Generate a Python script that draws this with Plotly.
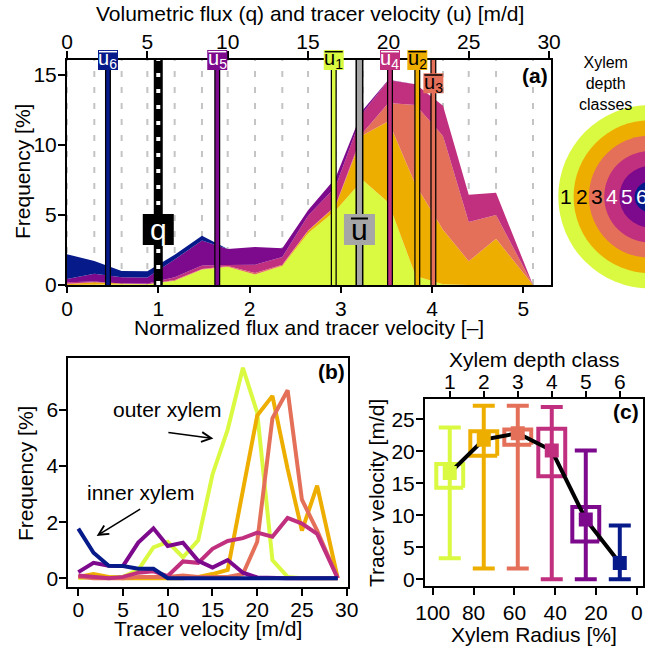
import plotly.graph_objects as go

W, H = 645, 649
def px(x): return x / W
def py(y): return 1 - y / H

FONT = "Liberation Sans, Arial, Helvetica, sans-serif"

# ---------------- data ----------------
velocity = [0, 1.7, 3.4, 5.0, 6.7, 8.4, 10.0, 11.7, 13.4, 15.0, 16.7, 18.4, 20.0, 21.7, 23.4, 25.0, 26.7, 29.0]
freq_c1 = [0.0, 0.05, 0.05, 0.05, 0.3, 1.1, 1.3, 0.75, 1.35, 3.7, 5.3, 7.5, 5.9, 0.65, 0.05, 0, 0, 0]
freq_c2 = [0.05, 0.15, 0.05, 0.0, 0.0, 0.0, 0.0, 0.0, 0.05, 0.15, 0.3, 3.2, 5.8, 6.5, 3.9, 1.7, 3.3, 0]
freq_c3 = [0.05, 0.0, 0.0, 0.0, 0.05, 0.05, 0.05, 0.1, 0.05, 0.05, 0.05, 0.15, 1.3, 5.7, 6.7, 2.8, 1.7, 0]
freq_c4 = [0.1, 0.05, 0.0, 0.05, 0.2, 0.25, 0.08, 0.6, 0.55, 1.05, 1.33, 1.43, 1.63, 1.48, 2.15, 1.95, 1.58, 0]
freq_c5 = [0.22, 0.55, 0.45, 0.44, 1.27, 1.78, 1.15, 1.27, 0.62, 0.38, 0.65, 0.2, 0.03, 0, 0, 0, 0, 0]
freq_c6 = [1.77, 0.91, 0.45, 0.44, 0.34, 0.34, 0, 0, 0, 0, 0, 0, 0, 0, 0, 0, 0, 0]
freqs = [freq_c1, freq_c2, freq_c3, freq_c4, freq_c5, freq_c6]

classes = [1, 2, 3, 4, 5, 6]
class_labels = ["1", "2", "3", "4", "5", "6"]
radius_center = [91.67, 75.0, 58.33, 41.67, 25.0, 8.33]
mean_u = [16.6, 21.8, 22.8, 20.1, 9.35, 2.55]
box_low = [14.3, 19.3, 21.0, 16.1, 5.9, None]
box_high = [18.0, 23.1, 23.4, 23.5, 11.3, None]
whisk_low = [3.3, 1.7, 1.7, 0.0, 0.0, 0.0]
whisk_high = [23.7, 27.1, 27.1, 26.9, 20.1, 8.4]

q_flux = 5.68      # volumetric flux [m/d]
u_mean_all = 18.2  # mean tracer velocity [m/d]

colors = ['#DAF941', '#EEAE00', '#E4705A', '#C1307F', '#7D0A8C', '#071A8A']
text_on = ['black', 'black', 'black', 'white', 'white', 'white']

XMAX_A = 30.12
YMAX_A = 16.07

fig = go.Figure()

# ---------------- panel (a): stacked areas ----------------
for i, f in enumerate(freqs):
    fig.add_trace(go.Scatter(x=velocity, y=f, mode='lines', stackgroup='a',
                             line=dict(width=0, color=colors[i]), fillcolor=colors[i],
                             xaxis='x', yaxis='y', showlegend=False, hoverinfo='skip'))

# dashed guide lines at bins
shapes = []
for v in velocity:
    shapes.append(dict(type='line', xref='x', yref='y', x0=v, x1=v, y0=0, y1=YMAX_A,
                       layer='below', line=dict(color='#C4C4C4', width=2, dash='6px,10px')))

# mean velocity bars
def vbar(x, color, wb, wc, dash=None):
    fig.add_trace(go.Scatter(x=[x, x], y=[0, YMAX_A], mode='lines', xaxis='x', yaxis='y',
                             line=dict(color='black', width=wb), showlegend=False, hoverinfo='skip'))
    fig.add_trace(go.Scatter(x=[x, x], y=[0, YMAX_A], mode='lines', xaxis='x', yaxis='y',
                             line=dict(color=color, width=wc, dash=dash), showlegend=False, hoverinfo='skip'))

vbar(q_flux, 'white', 9, 4, dash='4px,12px')
vbar(u_mean_all, '#A6A6A6', 8, 5)
for i in range(6):
    vbar(mean_u[i], colors[i], 6, 3.5)

# invisible trace so that the normalized bottom axis is drawn
fig.add_trace(go.Scatter(x=[0, XMAX_A / q_flux], y=[0, 0], mode='markers', xaxis='x2', yaxis='y',
                         marker=dict(size=1, color='rgba(0,0,0,0)'), showlegend=False, hoverinfo='skip'))

# ---------------- panel (b): lines ----------------
for i, f in enumerate(freqs):
    fig.add_trace(go.Scatter(x=velocity, y=f, mode='lines', xaxis='x3', yaxis='y2',
                             line=dict(color=colors[i], width=4), showlegend=False, hoverinfo='skip'))

# ---------------- panel (c) ----------------
BHW = 6.6
for i in range(6):
    if box_low[i] is None:
        continue
    xc = radius_center[i]
    fig.add_trace(go.Scatter(x=[xc - BHW, xc + BHW, xc + BHW, xc - BHW, xc - BHW],
                             y=[box_low[i], box_low[i], box_high[i], box_high[i], box_low[i]],
                             mode='lines', xaxis='x4', yaxis='y3',
                             line=dict(color=colors[i], width=4), showlegend=False, hoverinfo='skip'))
for i in range(6):
    fig.add_trace(go.Scatter(x=[radius_center[i]], y=[mean_u[i]], mode='markers', xaxis='x4', yaxis='y3',
                             marker=dict(size=1, color='rgba(0,0,0,0)'),
                             error_y=dict(type='data', symmetric=False,
                                          array=[whisk_high[i] - mean_u[i]],
                                          arrayminus=[mean_u[i] - whisk_low[i]],
                                          color=colors[i], thickness=4, width=11),
                             showlegend=False, hoverinfo='skip'))
fig.add_trace(go.Scatter(x=radius_center, y=mean_u, mode='lines', xaxis='x4', yaxis='y3',
                         line=dict(color='black', width=4), showlegend=False, hoverinfo='skip'))
fig.add_trace(go.Scatter(x=radius_center, y=mean_u, mode='markers', xaxis='x4', yaxis='y3',
                         marker=dict(size=14, color=colors, symbol='square', line=dict(width=0)),
                         showlegend=False, hoverinfo='skip'))
# invisible trace so that the class (top) axis is drawn
fig.add_trace(go.Scatter(x=radius_center, y=mean_u, mode='markers', xaxis='x5', yaxis='y3',
                         marker=dict(size=1, color='rgba(0,0,0,0)'), showlegend=False, hoverinfo='skip'))

# ---------------- rings ----------------
ring_cx, ring_cy = 650, 196.7
ring_r = [91.7, 76.4, 61.1, 45.8, 30.6, 15.3]
for i, r in enumerate(ring_r):
    shapes.append(dict(type='circle', xref='paper', yref='paper',
                       x0=px(ring_cx - r), x1=px(ring_cx + r), y0=py(ring_cy + r), y1=py(ring_cy - r),
                       fillcolor=colors[i], line=dict(width=0), layer='above'))

# ---------------- annotations ----------------
ann = []
def txt(x, y, s, size=21, color='black', bold=False, angle=0, xanchor='center', yanchor='middle'):
    ann.append(dict(x=px(x), y=py(y), xref='paper', yref='paper', text=(f'<b>{s}</b>' if bold else s),
                    showarrow=False, font=dict(family=FONT, size=size, color=color), textangle=angle,
                    xanchor=xanchor, yanchor=yanchor))

txt(310, 13, 'Volumetric flux (q) and tracer velocity (u) [m/d]')
txt(309, 327, 'Normalized flux and tracer velocity [–]')
txt(22, 172, 'Frequency [%]', angle=-90)
txt(535, 75, '(a)', bold=True)

txt(208, 628, 'Tracer velocity [m/d]')
txt(25, 474, 'Frequency [%]', angle=-90)
txt(331, 372, '(b)', bold=True)

txt(534, 634, 'Xylem Radius [%]')
txt(534, 360, 'Xylem depth class')
txt(376, 493, 'Tracer velocity [m/d]', angle=-90)
txt(626, 412, '(c)', bold=True)

txt(605, 83, 'Xylem<br>depth<br>classes', size=16)
ring_num_x = [566, 581.5, 596.5, 612, 627, 642]
for i, lab in enumerate(class_labels):
    txt(ring_num_x[i], ring_cy, lab, size=21, color=text_on[i])

# mean labels on (a): box, overline, text
def label_box(xv, yc_px, half_w, half_h, fill, over_col, over_off, over_half, over_w, text, tcol, size):
    shapes.append(dict(type='rect', xref='x', yref='paper', xsizemode='pixel', ysizemode='pixel',
                       xanchor=xv, x0=-half_w, x1=half_w, yanchor=py(yc_px), y0=-half_h, y1=half_h,
                       fillcolor=fill, line=dict(width=0), layer='above'))
    if over_col is not None:
        shapes.append(dict(type='line', xref='x', yref='paper', xsizemode='pixel', ysizemode='pixel',
                           xanchor=xv, x0=-over_half, x1=over_half, yanchor=py(yc_px),
                           y0=over_off, y1=over_off, line=dict(color=over_col, width=over_w), layer='above'))
    ann.append(dict(x=xv, xref='x', y=py(yc_px), yref='paper', text=text, showarrow=False,
                    xanchor='center', yanchor='middle',
                    font=dict(family=FONT, size=size, color=tcol)))

label_y = [60, 60, 83.3, 60, 60, 60]
for i in range(6):
    label_box(mean_u[i], label_y[i], 10, 10, colors[i], text_on[i], 8.3, 9, 1.5,
              f'u<sub>{classes[i]}</sub>', text_on[i], 20)
label_box(q_flux, 229.5, 15.5, 15.5, 'black', None, 0, 0, 0, 'q', 'white', 30)
label_box(u_mean_all, 229.5, 15.5, 15.5, '#A6A6A6', 'black', 11, 8.5, 2, 'u', 'black', 30)

# panel (b) notes with arrows
ann.append(dict(x=10.0, y=6.02, xref='x3', yref='y2', text='outer xylem', showarrow=False,
                font=dict(family=FONT, size=21, color='black')))
ann.append(dict(x=15.1, y=4.98, xref='x3', yref='y2', ax=9.9, ay=5.2, axref='x3', ayref='y2',
                text='', showarrow=True, arrowhead=5, arrowsize=1.2, arrowwidth=1.6, arrowcolor='black'))
ann.append(dict(x=7.0, y=3.06, xref='x3', yref='y2', text='inner xylem', showarrow=False,
                font=dict(family=FONT, size=21, color='black')))
ann.append(dict(x=2.05, y=1.51, xref='x3', yref='y2', ax=7.08, ay=2.5, axref='x3', ayref='y2',
                text='', showarrow=True, arrowhead=5, arrowsize=1.2, arrowwidth=1.6, arrowcolor='black'))

# ---------------- axes ----------------
common = dict(showgrid=False, zeroline=False, ticks='outside', ticklen=7, tickwidth=2, tickcolor='black',
              linecolor='black', linewidth=2, automargin=False,
              tickfont=dict(family=FONT, size=21, color='black'))

fig.update_layout(
    width=W, height=H, autosize=False, margin=dict(l=0, r=0, t=0, b=0, pad=0, autoexpand=False),
    paper_bgcolor='white', plot_bgcolor='white', showlegend=False,
    xaxis=dict(domain=[px(67), px(551)], range=[0, XMAX_A], side='top', anchor='y',
               tickvals=[0, 5, 10, 15, 20, 25, 30], showline=True, mirror=True,
               ticklabelstandoff=-6, **common),
    xaxis2=dict(overlaying='x', side='bottom', anchor='y', range=[0, XMAX_A / q_flux],
                tickvals=[0, 1, 2, 3, 4, 5], showline=False, ticklabelstandoff=-2, **common),
    yaxis=dict(domain=[py(285), py(60)], range=[0, YMAX_A], anchor='x',
               tickvals=[0, 5, 10, 15], showline=True, mirror=True, ticklabelstandoff=-3, **common),
    xaxis3=dict(domain=[px(68.3), px(348)], range=[-1.12, 30.15], anchor='y2',
                tickvals=[0, 5, 10, 15, 20, 25, 30], showline=True, mirror=True,
                ticklabelstandoff=-4, **common),
    yaxis2=dict(domain=[py(586.7), py(358.3)], range=[-0.3, 7.84], anchor='x3',
                tickvals=[0, 2, 4, 6], showline=True, mirror=True, ticklabelstandoff=-3, **common),
    xaxis4=dict(domain=[px(425), px(642.7)], range=[103.8, -2.9], anchor='y3',
                tickvals=[100, 80, 60, 40, 20, 0], showline=True, mirror=True, **common),
    xaxis5=dict(overlaying='x4', side='top', anchor='y3', range=[103.8, -2.9],
                tickvals=radius_center, ticktext=class_labels, showline=False,
                ticklabelstandoff=-6, **common),
    yaxis3=dict(domain=[py(586), py(399.3)], range=[-1.05, 28.1], anchor='x4',
                tickvals=[0, 5, 10, 15, 20, 25], showline=True, mirror=True, ticklabelstandoff=-3, **common),
    shapes=shapes, annotations=ann,
)

fig.write_html("out.html", config={'displayModeBar': False},
               post_script="document.body.style.margin='0px';")
